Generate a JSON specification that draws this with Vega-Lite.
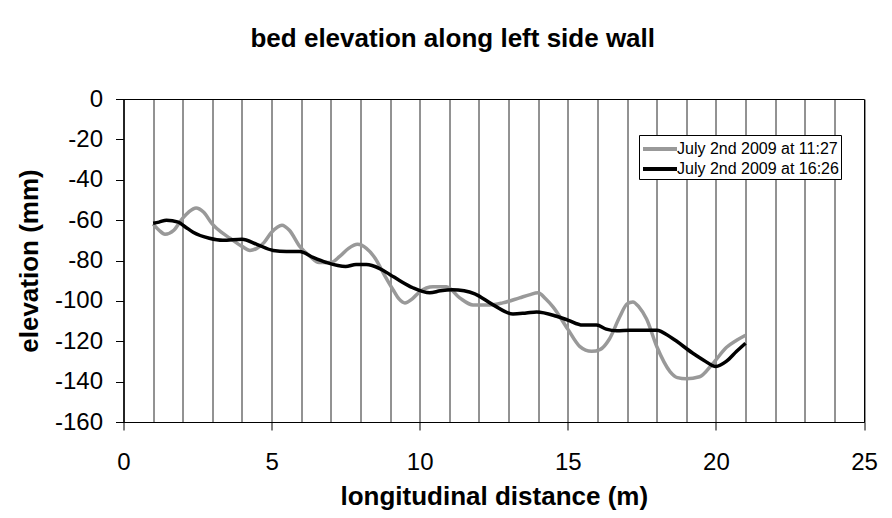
{
  "$schema": "https://vega.github.io/schema/vega-lite/v6.json",
  "autosize": {"type": "none"},
  "width": 740.5,
  "height": 323,
  "padding": {"left": 123.5, "top": 99, "right": 28, "bottom": 96},
  "background": "white",
  "config": {
    "font": "Liberation Sans",
    "view": {"stroke": "#000", "strokeWidth": 1}
  },
  "title": {
    "text": "bed elevation along left side wall",
    "font": "Liberation Sans",
    "fontSize": 26,
    "fontWeight": "bold",
    "color": "#000",
    "anchor": "middle",
    "dx": -41,
    "offset": 35
  },
  "data": {
    "values": [
      {"x": 1.0, "y": -62, "s": "July 2nd 2009 at 11:27"},
      {"x": 1.2, "y": -65, "s": "July 2nd 2009 at 11:27"},
      {"x": 1.4, "y": -67, "s": "July 2nd 2009 at 11:27"},
      {"x": 1.7, "y": -65, "s": "July 2nd 2009 at 11:27"},
      {"x": 2.0, "y": -59, "s": "July 2nd 2009 at 11:27"},
      {"x": 2.2, "y": -56, "s": "July 2nd 2009 at 11:27"},
      {"x": 2.45, "y": -54, "s": "July 2nd 2009 at 11:27"},
      {"x": 2.7, "y": -56, "s": "July 2nd 2009 at 11:27"},
      {"x": 3.0, "y": -62, "s": "July 2nd 2009 at 11:27"},
      {"x": 3.3, "y": -66, "s": "July 2nd 2009 at 11:27"},
      {"x": 3.6, "y": -69, "s": "July 2nd 2009 at 11:27"},
      {"x": 4.0, "y": -73, "s": "July 2nd 2009 at 11:27"},
      {"x": 4.27, "y": -75, "s": "July 2nd 2009 at 11:27"},
      {"x": 4.5, "y": -74, "s": "July 2nd 2009 at 11:27"},
      {"x": 4.75, "y": -71, "s": "July 2nd 2009 at 11:27"},
      {"x": 5.0, "y": -66, "s": "July 2nd 2009 at 11:27"},
      {"x": 5.35, "y": -62.5, "s": "July 2nd 2009 at 11:27"},
      {"x": 5.6, "y": -65, "s": "July 2nd 2009 at 11:27"},
      {"x": 5.95, "y": -73, "s": "July 2nd 2009 at 11:27"},
      {"x": 6.3, "y": -78, "s": "July 2nd 2009 at 11:27"},
      {"x": 6.6, "y": -81, "s": "July 2nd 2009 at 11:27"},
      {"x": 7.0, "y": -81, "s": "July 2nd 2009 at 11:27"},
      {"x": 7.3, "y": -78, "s": "July 2nd 2009 at 11:27"},
      {"x": 7.6, "y": -74, "s": "July 2nd 2009 at 11:27"},
      {"x": 7.9, "y": -72, "s": "July 2nd 2009 at 11:27"},
      {"x": 8.2, "y": -74, "s": "July 2nd 2009 at 11:27"},
      {"x": 8.5, "y": -79, "s": "July 2nd 2009 at 11:27"},
      {"x": 8.8, "y": -87, "s": "July 2nd 2009 at 11:27"},
      {"x": 9.1, "y": -94.5, "s": "July 2nd 2009 at 11:27"},
      {"x": 9.3, "y": -99, "s": "July 2nd 2009 at 11:27"},
      {"x": 9.5, "y": -101, "s": "July 2nd 2009 at 11:27"},
      {"x": 9.75, "y": -99, "s": "July 2nd 2009 at 11:27"},
      {"x": 10.0, "y": -95.5, "s": "July 2nd 2009 at 11:27"},
      {"x": 10.45, "y": -93, "s": "July 2nd 2009 at 11:27"},
      {"x": 10.9, "y": -93, "s": "July 2nd 2009 at 11:27"},
      {"x": 11.35, "y": -98.5, "s": "July 2nd 2009 at 11:27"},
      {"x": 11.8, "y": -102, "s": "July 2nd 2009 at 11:27"},
      {"x": 12.37, "y": -102, "s": "July 2nd 2009 at 11:27"},
      {"x": 12.8, "y": -101, "s": "July 2nd 2009 at 11:27"},
      {"x": 13.37, "y": -98.5, "s": "July 2nd 2009 at 11:27"},
      {"x": 13.7, "y": -97, "s": "July 2nd 2009 at 11:27"},
      {"x": 14.0, "y": -96, "s": "July 2nd 2009 at 11:27"},
      {"x": 14.25, "y": -99, "s": "July 2nd 2009 at 11:27"},
      {"x": 14.5, "y": -103, "s": "July 2nd 2009 at 11:27"},
      {"x": 15.0, "y": -114, "s": "July 2nd 2009 at 11:27"},
      {"x": 15.4, "y": -122.5, "s": "July 2nd 2009 at 11:27"},
      {"x": 15.8, "y": -125, "s": "July 2nd 2009 at 11:27"},
      {"x": 16.1, "y": -124, "s": "July 2nd 2009 at 11:27"},
      {"x": 16.4, "y": -119, "s": "July 2nd 2009 at 11:27"},
      {"x": 16.75, "y": -108, "s": "July 2nd 2009 at 11:27"},
      {"x": 17.0, "y": -101.5, "s": "July 2nd 2009 at 11:27"},
      {"x": 17.2, "y": -100.5, "s": "July 2nd 2009 at 11:27"},
      {"x": 17.4, "y": -103, "s": "July 2nd 2009 at 11:27"},
      {"x": 17.66, "y": -109, "s": "July 2nd 2009 at 11:27"},
      {"x": 18.0, "y": -122.5, "s": "July 2nd 2009 at 11:27"},
      {"x": 18.45, "y": -135, "s": "July 2nd 2009 at 11:27"},
      {"x": 18.7, "y": -138, "s": "July 2nd 2009 at 11:27"},
      {"x": 19.0, "y": -138.6, "s": "July 2nd 2009 at 11:27"},
      {"x": 19.45, "y": -137.6, "s": "July 2nd 2009 at 11:27"},
      {"x": 19.9, "y": -131, "s": "July 2nd 2009 at 11:27"},
      {"x": 20.36, "y": -123, "s": "July 2nd 2009 at 11:27"},
      {"x": 20.7, "y": -119.5, "s": "July 2nd 2009 at 11:27"},
      {"x": 21.0, "y": -117, "s": "July 2nd 2009 at 11:27"},
      {"x": 1.0, "y": -61.5, "s": "July 2nd 2009 at 16:26"},
      {"x": 1.2, "y": -61, "s": "July 2nd 2009 at 16:26"},
      {"x": 1.45, "y": -60, "s": "July 2nd 2009 at 16:26"},
      {"x": 1.85, "y": -61, "s": "July 2nd 2009 at 16:26"},
      {"x": 2.1, "y": -63.5, "s": "July 2nd 2009 at 16:26"},
      {"x": 2.35, "y": -66, "s": "July 2nd 2009 at 16:26"},
      {"x": 2.9, "y": -69, "s": "July 2nd 2009 at 16:26"},
      {"x": 3.35, "y": -70, "s": "July 2nd 2009 at 16:26"},
      {"x": 4.0, "y": -69.5, "s": "July 2nd 2009 at 16:26"},
      {"x": 4.5, "y": -72, "s": "July 2nd 2009 at 16:26"},
      {"x": 5.05, "y": -75, "s": "July 2nd 2009 at 16:26"},
      {"x": 5.5, "y": -75.5, "s": "July 2nd 2009 at 16:26"},
      {"x": 5.95, "y": -75.5, "s": "July 2nd 2009 at 16:26"},
      {"x": 6.4, "y": -78.5, "s": "July 2nd 2009 at 16:26"},
      {"x": 6.85, "y": -81, "s": "July 2nd 2009 at 16:26"},
      {"x": 7.5, "y": -83, "s": "July 2nd 2009 at 16:26"},
      {"x": 7.85, "y": -82, "s": "July 2nd 2009 at 16:26"},
      {"x": 8.2, "y": -82, "s": "July 2nd 2009 at 16:26"},
      {"x": 8.65, "y": -84, "s": "July 2nd 2009 at 16:26"},
      {"x": 9.0, "y": -87, "s": "July 2nd 2009 at 16:26"},
      {"x": 9.33, "y": -90, "s": "July 2nd 2009 at 16:26"},
      {"x": 9.77, "y": -93.5, "s": "July 2nd 2009 at 16:26"},
      {"x": 10.34, "y": -96, "s": "July 2nd 2009 at 16:26"},
      {"x": 10.7, "y": -95, "s": "July 2nd 2009 at 16:26"},
      {"x": 11.1, "y": -94.5, "s": "July 2nd 2009 at 16:26"},
      {"x": 11.5, "y": -95, "s": "July 2nd 2009 at 16:26"},
      {"x": 11.86, "y": -96.5, "s": "July 2nd 2009 at 16:26"},
      {"x": 12.48, "y": -102, "s": "July 2nd 2009 at 16:26"},
      {"x": 13.15, "y": -106.5, "s": "July 2nd 2009 at 16:26"},
      {"x": 13.6, "y": -106, "s": "July 2nd 2009 at 16:26"},
      {"x": 13.95, "y": -105.5, "s": "July 2nd 2009 at 16:26"},
      {"x": 14.62, "y": -107.6, "s": "July 2nd 2009 at 16:26"},
      {"x": 15.0, "y": -109.5, "s": "July 2nd 2009 at 16:26"},
      {"x": 15.5, "y": -112, "s": "July 2nd 2009 at 16:26"},
      {"x": 15.97, "y": -112, "s": "July 2nd 2009 at 16:26"},
      {"x": 16.3, "y": -114, "s": "July 2nd 2009 at 16:26"},
      {"x": 16.65, "y": -114.8, "s": "July 2nd 2009 at 16:26"},
      {"x": 17.1, "y": -114.5, "s": "July 2nd 2009 at 16:26"},
      {"x": 17.5, "y": -114.5, "s": "July 2nd 2009 at 16:26"},
      {"x": 18.0, "y": -114.5, "s": "July 2nd 2009 at 16:26"},
      {"x": 18.5, "y": -118.3, "s": "July 2nd 2009 at 16:26"},
      {"x": 19.2, "y": -125.7, "s": "July 2nd 2009 at 16:26"},
      {"x": 19.6, "y": -129.5, "s": "July 2nd 2009 at 16:26"},
      {"x": 20.0, "y": -132.5, "s": "July 2nd 2009 at 16:26"},
      {"x": 20.35, "y": -130, "s": "July 2nd 2009 at 16:26"},
      {"x": 20.7, "y": -125, "s": "July 2nd 2009 at 16:26"},
      {"x": 21.0, "y": -121, "s": "July 2nd 2009 at 16:26"}
    ]
  },
  "mark": {"type": "line", "interpolate": "monotone", "strokeWidth": 3.5},
  "encoding": {
    "x": {
      "field": "x",
      "type": "quantitative",
      "scale": {"domain": [0, 25], "nice": false},
      "axis": {
        "title": "longitudinal distance (m)",
        "titleFont": "Liberation Sans",
        "titleFontSize": 26,
        "titleFontWeight": "bold",
        "titleColor": "#000",
        "titlePadding": 9,
        "values": [0, 1, 2, 3, 4, 5, 6, 7, 8, 9, 10, 11, 12, 13, 14, 15, 16, 17, 18, 19, 20, 21, 22, 23, 24, 25],
        "labelExpr": "datum.value % 5 === 0 ? datum.label : ''",
        "labelFontSize": 24,
        "labelColor": "#000",
        "labelPadding": 20,
        "labelFlush": false,
        "tickSize": 8,
        "tickColor": "#000",
        "tickOpacity": {"condition": {"test": "datum.value % 5 === 0", "value": 1}, "value": 0},
        "domainColor": "#000",
        "grid": true,
        "gridColor": "#000",
        "gridOpacity": 0.85
      }
    },
    "y": {
      "field": "y",
      "type": "quantitative",
      "scale": {"domain": [-160, 0], "nice": false},
      "axis": {
        "title": "elevation (mm)",
        "titleFont": "Liberation Sans",
        "titleFontSize": 26,
        "titleFontWeight": "bold",
        "titleColor": "#000",
        "titlePadding": 12,
        "values": [0, -20, -40, -60, -80, -100, -120, -140, -160],
        "labelExpr": "replace(datum.label, '−', '-')",
        "labelFontSize": 24,
        "labelColor": "#000",
        "labelPadding": 13,
        "labelFlush": false,
        "tickSize": 8,
        "tickColor": "#000",
        "domainColor": "#000",
        "grid": false
      }
    },
    "color": {
      "field": "s",
      "type": "nominal",
      "scale": {"domain": ["July 2nd 2009 at 11:27", "July 2nd 2009 at 16:26"], "range": ["#999999", "#000000"]},
      "legend": {
        "title": null,
        "orient": "none",
        "legendX": 515.5,
        "legendY": 36,
        "strokeColor": "#000",
        "fillColor": "#fff",
        "padding": 2,
        "symbolType": "M-1.7,0H1.7",
        "symbolStrokeWidth": 4,
        "symbolSize": 400,
        "symbolOffset": 7,
        "labelFont": "Liberation Sans",
        "labelFontSize": 16,
        "labelColor": "#000",
        "labelLimit": 300,
        "labelOffset": 5,
        "rowPadding": 0
      }
    }
  }
}
